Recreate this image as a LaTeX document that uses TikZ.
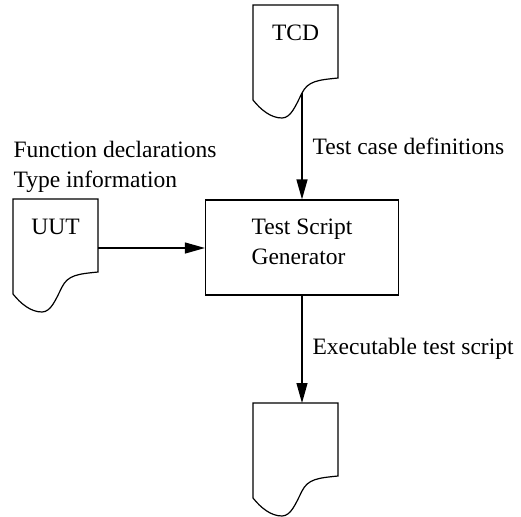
\documentclass[tikz,border=0pt]{standalone}
\usepackage{fontspec}
\setmainfont{Liberation Serif}
\usetikzlibrary{arrows.meta,positioning,calc}

% a sheet of paper with a torn/wavy lower edge
\tikzset{
  docsheet/.pic={
    \coordinate (-nw) at (0,0);
    \coordinate (-top) at (49,0);
    \coordinate (-side) at (85,-49);
    \coordinate (-tail) at (49,-88);
    \draw (0,0) -- (85,0) -- (85,-73)
      .. controls (65,-75) and (55,-76) .. (49,-88)
      .. controls (43,-100) and (38,-113) .. (29,-113)
      .. controls (18,-113) and (8,-105) .. (0,-95) -- cycle;
    \node[anchor=base] (-label) at (42.5,-35) {#1};
  }
}

\begin{document}
\begin{tikzpicture}[
        x=0.5pt, y=0.5pt, line width=0.6pt,
        every node/.style={font=\fontsize{11.75pt}{15pt}\selectfont},
        arrow/.style={draw, -{Triangle[length=10pt,width=5.5pt]}},
        gentor/.style={draw, rectangle, minimum width=96.5pt, minimum height=47.5pt, align=left, text depth=5.5pt},
        flowlabel/.style={inner sep=5pt},
        notes/.style={align=left, inner sep=0pt}
    ]

    \useasboundingbox (0,0) rectangle (521,-516);

    % Generator box
    \node[gentor] (gen) at (302,-247.5) {Test Script\\Generator};

    % Input and output sheets
    \pic (tcd) at (253,-5) {docsheet={TCD}};
    \pic (uut) at (13,-199) {docsheet={UUT}};
    \pic (out) at (253,-403) {docsheet={}};

    \node[notes, above=3pt of uut-nw, anchor=south west] (uutinfo) {Function declarations\\Type information};

    % Draw Arrows
    \draw[arrow] (tcd-tail) -- node[flowlabel, right] {Test case definitions} (tcd-tail |- gen.north);
    \draw[arrow] (uut-side) -- (gen.west |- uut-side);
    \draw[arrow] (gen.south) -- node[flowlabel, right] {Executable test script} (out-top);

\end{tikzpicture}
\end{document}
